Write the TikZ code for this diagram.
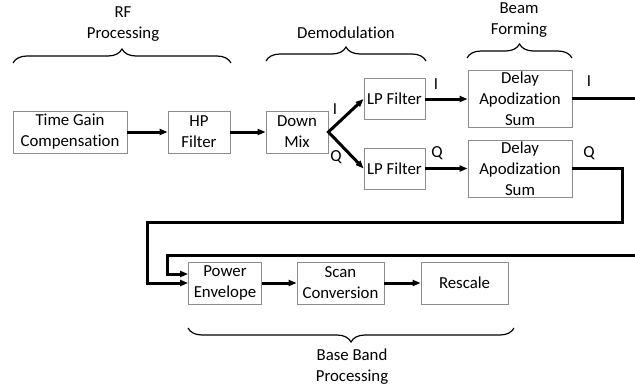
\documentclass[tikz,border=0pt]{standalone}
\usepackage{fontspec}
\setmainfont[Ligatures=NoCommon]{Carlito}
\usetikzlibrary{arrows.meta,decorations.pathreplacing,calc}
\begin{document}
\begin{tikzpicture}[x=1pt,y=-1pt,
  blk/.style={draw=black!45, line width=0.8pt, align=center, inner sep=0pt, font=\fontsize{16.8}{21}\selectfont},
  txt/.style={align=center, inner sep=0pt, font=\fontsize{16.8}{21}\selectfont},
  sig/.style={line width=3pt},
  arr/.style={sig, -{Triangle[length=8pt,width=6pt]}},
  brc/.style={decorate, decoration={brace, amplitude=14pt}, line width=1.2pt}
]
\useasboundingbox (0,0) rectangle (635,389);
% blocks
\node[blk, minimum width=114, minimum height=42] (tgc) at (70,132) {Time Gain\\Compensation};
\node[blk, minimum width=62, minimum height=42] (hp) at (199,132) {HP\\Filter};
\node[blk, minimum width=62, minimum height=42] (dm) at (297,132) {Down\\Mix};
\node[blk, minimum width=61, minimum height=41] (lp1) at (394.5,99) {LP Filter};
\node[blk, minimum width=61, minimum height=41] (lp2) at (394.5,168.5) {LP Filter};
\node[blk, minimum width=104, minimum height=57] (das1) at (520,98.5) {Delay\\Apodization\\Sum};
\node[blk, minimum width=104, minimum height=57] (das2) at (520,168.5) {Delay\\Apodization\\Sum};
\node[blk, minimum width=73, minimum height=42] (pe) at (225,283) {Power\\Envelope};
\node[blk, minimum width=87, minimum height=42] (sc) at (340.5,283) {Scan\\Conversion};
\node[blk, minimum width=87, minimum height=42] (rs) at (464.5,283) {Rescale};
% titles
\node[txt] (trf) at (123,24.5) {RF\\Processing};
\node[txt] (tdm) at (346,33) {Demodulation};
\node[txt] (tbf) at (519,20) {Beam\\Forming};
\node[txt] (tbb) at (352,367) {Base Band\\Processing};
% braces
\draw[brc] (13,63) -- (231,63);
\draw[brc] (266,61) -- (426,61);
\draw[brc] (467,58) -- (572,58);
\draw[brc, decoration={mirror}] (188,328) -- (514,328);
% connectors
\draw[arr] (tgc.east) -- (hp.west);
\draw[arr] (hp.east) -- (dm.west);
\draw[sig, {Triangle[length=8pt,width=6pt]}-{Triangle[length=8pt,width=6pt]}] (lp1.west) -- (dm.east) -- (lp2.west);
\draw[arr] (lp1.east) -- (lp1.east -| das1.west);
\draw[arr] (lp2.east) -- (lp2.east -| das2.west);
\coordinate (iout) at (635,98.5);
\draw[sig] (das1.east) -- (iout);
\coordinate (qr) at (622,222);
\coordinate (ql) at (147,222);
\draw[arr] (das2.east) -| (qr) -- (ql) |- (pe.west);
\coordinate (iin) at (636,255);
\coordinate (il) at (167,255);
\draw[arr] (iin) -- (il) |- ([yshift=9pt]pe.west);
\draw[arr] (pe.east) -- (sc.west);
\draw[arr] (sc.east) -- (rs.west);
% signal labels
\node[txt] (l1) at (335,109) {I};
\node[txt] (l2) at (336,157) {Q};
\node[txt] (l3) at (436,84) {I};
\node[txt] (l4) at (437,153) {Q};
\node[txt] (l5) at (589,81) {I};
\node[txt] (l6) at (589,153) {Q};
\end{tikzpicture}
\end{document}
